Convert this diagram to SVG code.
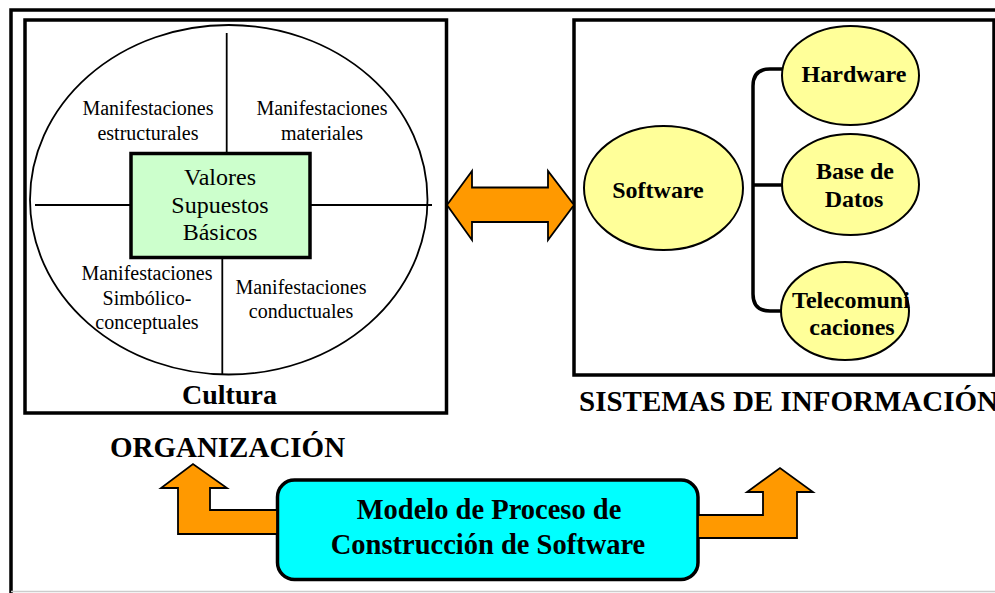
<svg xmlns="http://www.w3.org/2000/svg" width="995" height="593" viewBox="0 0 995 593">
<style>
  .frame{fill:none;stroke:#000;stroke-width:3.5}
  .thin{fill:none;stroke:#000;stroke-width:1.8}
  .ell{fill:#FFFF99;stroke:#000;stroke-width:2}
  .arrow{fill:#FF9900;stroke:#000;stroke-width:1.8;stroke-linejoin:miter}
  .conn{fill:none;stroke:#000;stroke-width:3.5}
  .ser{font-family:"Liberation Serif","Times New Roman",serif;fill:#000;text-anchor:middle}
  .lbl{font-size:20px}
  .b{font-weight:bold}
</style>
<rect width="995" height="593" fill="#fff"/>
<g id="outer-frame">
  <path d="M11,593 V10 H995" class="frame"/>
  <line x1="11" y1="591.5" x2="995" y2="591.5" stroke="#cccccc" stroke-width="1.5"/>
</g>
<g id="cultura">
  <rect x="25" y="20" width="421.5" height="393" class="frame"/>
  <ellipse cx="228.75" cy="199.75" rx="198.75" ry="174.75" class="thin" stroke-width="2"/>
  <line x1="226.7" y1="33" x2="226.7" y2="153" class="thin"/>
  <line x1="222.3" y1="257" x2="222.3" y2="374.5" class="thin"/>
  <line x1="35" y1="205" x2="131" y2="205" class="thin"/>
  <line x1="310" y1="205" x2="432" y2="205" class="thin"/>
  <text class="ser lbl" x="148" y="115">Manifestaciones</text>
  <text class="ser lbl" x="148" y="139.5">estructurales</text>
  <text class="ser lbl" x="322" y="115">Manifestaciones</text>
  <text class="ser lbl" x="322" y="139.5">materiales</text>
  <text class="ser lbl" x="147" y="280">Manifestaciones</text>
  <text class="ser lbl" x="147" y="305">Simbólico-</text>
  <text class="ser lbl" x="147" y="328.5">conceptuales</text>
  <text class="ser lbl" x="301" y="294">Manifestaciones</text>
  <text class="ser lbl" x="301" y="317.5">conductuales</text>
  <text class="ser b" x="229.5" y="404" font-size="28">Cultura</text>
</g>
<g id="valores">
  <rect x="131" y="153.5" width="179" height="104" fill="#CCFFCC" stroke="#000" stroke-width="3.5"/>
  <text class="ser" x="220" y="185" font-size="24">Valores</text>
  <text class="ser" x="220" y="212.5" font-size="24">Supuestos</text>
  <text class="ser" x="220" y="240" font-size="24">Básicos</text>
</g>
<g id="organizacion-label">
  <text class="ser b" x="227.5" y="457" font-size="29">ORGANIZACIÓN</text>
</g>
<g id="sistemas">
  <rect x="574" y="20" width="420" height="355" class="frame"/>
  <text class="ser b" x="579" y="411" font-size="29" text-anchor="start" style="text-anchor:start">SISTEMAS DE INFORMACIÓN</text>
</g>
<g id="software">
  <ellipse cx="663.5" cy="188" rx="79.5" ry="62" class="ell"/>
  <text class="ser b" x="658" y="198" font-size="24">Software</text>
</g>
<g id="hardware">
  <ellipse cx="850.5" cy="75.5" rx="68.5" ry="49.5" class="ell"/>
  <text class="ser b" x="854" y="82" font-size="24">Hardware</text>
</g>
<g id="base-datos">
  <ellipse cx="850.5" cy="184.5" rx="68.5" ry="50.5" class="ell"/>
  <text class="ser b" x="855" y="179" font-size="24">Base de</text>
  <text class="ser b" x="854" y="207" font-size="24">Datos</text>
</g>
<g id="telecom">
  <ellipse cx="845" cy="311" rx="64" ry="49" class="ell"/>
  <text class="ser b" x="851" y="308" font-size="24">Telecomuni</text>
  <text class="ser b" x="852" y="335" font-size="24">caciones</text>
</g>
<g id="modelo">
  <rect x="277.5" y="480" width="420.5" height="99.5" rx="17" ry="17" fill="#00FFFF" stroke="#000" stroke-width="3.5"/>
  <text class="ser b" x="489" y="519" font-size="28.5">Modelo de Proceso de</text>
  <text class="ser b" x="488" y="554" font-size="28.5">Construcción de Software</text>
</g>
<g id="connectors">
  <path d="M782,69 H770 Q753,69 753,86 V294 Q753,311 770,311 H781" class="conn"/>
  <line x1="753" y1="185" x2="782" y2="185" class="conn"/>
  <polygon class="arrow" points="447,205 472,171 472,187.5 548,187.5 548,171 574,205 548,240 548,222 472,222 472,240"/>
  <polygon class="arrow" points="277,510 210,510 210,488 227,488 193,464 161,488 178,488 178,534 277,534"/>
  <polygon class="arrow" points="698,515 763,515 763,492 747,492 780,468 813,492 797,492 797,538 698,538"/>
</g>
</svg>
